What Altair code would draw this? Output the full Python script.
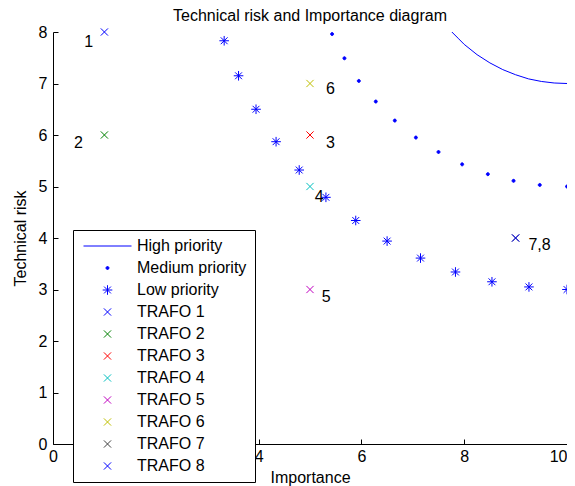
import altair as alt
import pandas as pd

# ---- data ----
high_x = [7.76, 7.88, 8.00, 8.25, 8.50, 8.75, 9.00, 9.25, 9.50, 9.75, 10.0]
high_y = [8.00, 7.88, 7.76, 7.56, 7.40, 7.27, 7.17, 7.09, 7.04, 7.01, 7.00]

medium_x = [5.43, 5.67, 5.95, 6.28, 6.65, 7.06, 7.50, 7.96, 8.46, 8.96, 9.47, 10.0]
medium_y = [7.96, 7.49, 7.05, 6.65, 6.28, 5.95, 5.67, 5.43, 5.24, 5.11, 5.03, 5.00]

low_x = [3.33, 3.61, 3.95, 4.34, 4.79, 5.31, 5.89, 6.50, 7.15, 7.83, 8.54, 9.26, 10.0]
low_y = [7.83, 7.15, 6.50, 5.87, 5.32, 4.79, 4.34, 3.94, 3.61, 3.34, 3.15, 3.05, 3.00]

trafo_names = ["TRAFO 1", "TRAFO 2", "TRAFO 3", "TRAFO 4",
               "TRAFO 5", "TRAFO 6", "TRAFO 7", "TRAFO 8"]
trafo_x = [1, 1, 5, 5, 5, 5, 9, 9]
trafo_y = [8, 6, 6, 5, 3, 7, 4, 4]

label_text = ["1", "2", "3", "4", "5", "6", "7,8"]
label_x = [0.61, 0.41, 5.31, 5.09, 5.23, 5.31, 9.25]
label_y = [7.81, 5.84, 5.84, 4.80, 2.86, 6.89, 3.86]

x_ticks = [0, 2, 4, 6, 8, 10]
y_ticks = [0, 1, 2, 3, 4, 5, 6, 7, 8]

series_names = ["High priority", "Medium priority", "Low priority"] + trafo_names
series_colors = ["#0000ff", "#0000ff", "#0000ff",
                 "#0000ff", "#008000", "#ff0000", "#00bfbf",
                 "#bf00bf", "#bfbf00", "#404040", "#0000ff"]

# ---- marker paths (styles) ----
LINE = "M-4,0L4,0"
DOT = "M-0.25,0A0.25,0.25,0,1,1,0.25,0A0.25,0.25,0,1,1,-0.25,0Z"
STAR = "M-0.8,0L0.8,0M0,-0.8L0,0.8M-0.57,-0.57L0.57,0.57M-0.57,0.57L0.57,-0.57"
XM = "M-0.6,-0.6L0.6,0.6M-0.6,0.6L0.6,-0.6"
series_shapes = [LINE, DOT, STAR] + [XM] * 8

FONT = "Liberation Sans, Arial, Helvetica, sans-serif"
W, H = 514, 412

high_df = pd.DataFrame({"x": high_x, "y": high_y})
pts = pd.DataFrame({
    "x": medium_x + low_x + trafo_x,
    "y": medium_y + low_y + trafo_y,
    "series": ["Medium priority"] * len(medium_x) + ["Low priority"] * len(low_x) + trafo_names,
})
pts["order"] = range(len(pts))
lab_df = pd.DataFrame({"t": label_text, "x": label_x, "y": label_y})

xs = alt.Scale(domain=[0, 10], nice=False, zero=False)
ys = alt.Scale(domain=[0, 8], nice=False, zero=False)

leg = alt.Legend(title=None, orient="none", legendX=20, legendY=198)

line = alt.Chart(high_df).mark_line(stroke="#0000ff", strokeWidth=1, clip=False).encode(
    x=alt.X("x:Q", scale=xs, axis=alt.Axis(orient="bottom", values=x_ticks, format="d",
                                            ticks=False, tickSize=0, labelPadding=4,
                                            labelAlign={"condition": {"test": "datum.value >= 10",
                                                                      "value": "right"},
                                                        "value": "center"},
                                            title="Importance", titlePadding=5,
                                            labelFlush=False)),
    y=alt.Y("y:Q", scale=ys, axis=alt.Axis(orient="left", values=y_ticks, format="d",
                                            ticks=False, tickSize=0, labelPadding=6,
                                            title="Technical risk", titlePadding=10,
                                            labelFlush=False)),
)

points = alt.Chart(pts).mark_point(size=144, strokeWidth=1, opacity=1, clip=False).encode(
    x=alt.X("x:Q", scale=xs, axis=alt.Axis(orient="top", offset=-H, values=x_ticks,
                                            labels=False, domain=False, ticks=True,
                                            tickSize=5, title=None)),
    y=alt.Y("y:Q", scale=ys, axis=alt.Axis(orient="right", offset=-W, values=y_ticks,
                                            labels=False, domain=False, ticks=True,
                                            tickSize=5, title=None)),
    fill=alt.Fill("series:N", scale=alt.Scale(domain=series_names, range=series_colors), legend=leg),
    stroke=alt.Stroke("series:N", scale=alt.Scale(domain=series_names, range=series_colors), legend=leg),
    shape=alt.Shape("series:N", scale=alt.Scale(domain=series_names, range=series_shapes), legend=leg),
    order=alt.Order("order:Q"),
)

labels = alt.Chart(lab_df).mark_text(align="left", baseline="middle", fontSize=16,
                                     font=FONT, color="black").encode(
    x=alt.X("x:Q", scale=xs, axis=None),
    y=alt.Y("y:Q", scale=ys, axis=None),
    text="t:N",
)

chart = alt.layer(line, points, labels).resolve_axis(
    x="independent", y="independent"
).properties(
    width=W, height=H,
    autosize=alt.AutoSizeParams(type="none"),
    padding={"left": 45, "top": 24, "right": 0, "bottom": 42},
    title=alt.TitleParams("Technical risk and Importance diagram", fontSize=16, font=FONT,
                          fontWeight="normal", color="black", anchor="middle", offset=0),
).configure_view(stroke=None).configure_axis(
    labelFont=FONT, titleFont=FONT, labelFontSize=16, titleFontSize=16,
    titleFontWeight="normal", labelColor="black", titleColor="black",
    domainColor="black", tickColor="black", domainWidth=1, tickWidth=1, grid=False,
).configure_legend(
    labelFont=FONT, labelFontSize=16, labelColor="black", padding=8,
    rowPadding=6, symbolOffset=18.5, labelOffset=21.5, symbolSize=144,
    symbolStrokeWidth=1, fillColor="white", strokeColor="black", cornerRadius=0,
    labelLimit=300,
)

chart.save("out.html", embed_options={"renderer": "svg", "actions": False})
